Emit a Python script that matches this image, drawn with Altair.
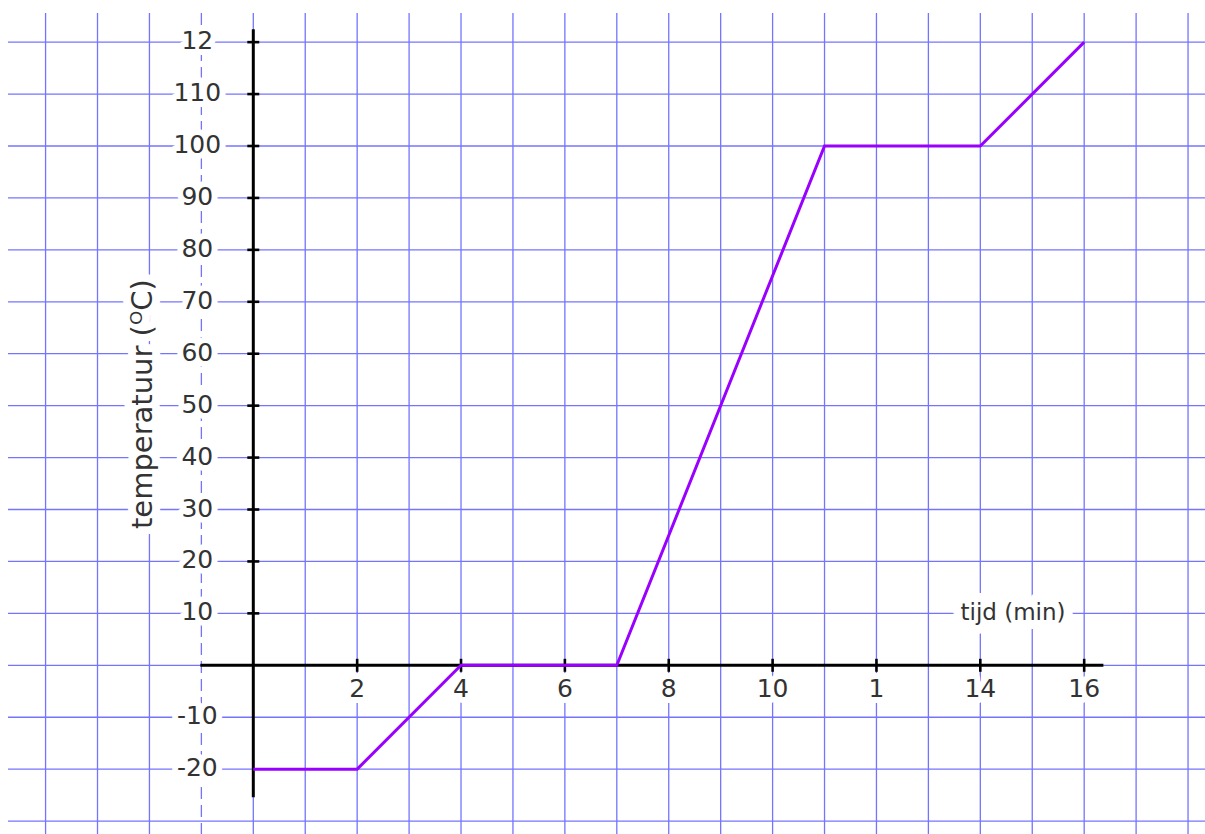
import altair as alt
import pandas as pd

# ---------------- data ----------------
time_min = [0, 2, 4, 7, 11, 14, 16]
temp_c = [-20, -20, 0, 0, 100, 100, 120]

x_tick_values = [2, 4, 6, 8, 10, 12, 14, 16]
x_tick_labels = ["2", "4", "6", "8", "10", "1", "14", "16"]

y_tick_values = [120, 110, 100, 90, 80, 70, 60, 50, 40, 30, 20, 10, -10, -20]
y_tick_labels = ["12", "110", "100", "90", "80", "70", "60", "50", "40", "30", "20", "10", "-10", "-20"]
y_tick_marks = [10, 20, 30, 40, 50, 60, 70, 80, 90, 100, 110, 120]

grid_minutes = list(range(-4, 19))
grid_degrees = list(range(-30, 121, 10))
dashed_minutes = [-1]

x_title = "tijd (min)"
y_title = "temperatuur (ᴼC)"

# ---------------- layout ----------------
W, H = 1205, 834
UNIT = 51.93          # px per minute and per 10 degC
X0, Y0 = 253.3, 665.3  # pixel position of the origin
FONT = "DejaVu Sans"
TEXT_COLOR = "#333333"
GRID_COLOR = "#7474ff"
LINE_COLOR = "#9900ff"

x_dom = [-X0 / UNIT, (W - X0) / UNIT]
y_dom = [-(H - Y0) / UNIT * 10, Y0 / UNIT * 10]
xs = alt.Scale(domain=x_dom, nice=False, zero=False)
ys = alt.Scale(domain=y_dom, nice=False, zero=False)

grid_top = (Y0 - 13) / UNIT * 10
grid_bottom = y_dom[0] - 10
grid_left = (8 - X0) / UNIT
grid_right = x_dom[1] + 1
axis_x_range = (-1.02, 16.37)
axis_y_range = (-25.4, 122.5)
tick_half_t = 6 / UNIT
tick_half_T = 6.5 / UNIT * 10
x_title_pos = (14.63, 10)
y_title_pos = (-2.12, 50.3)


def X(f):
    return alt.X(f, type="quantitative", scale=xs, axis=None)


def Y(f):
    return alt.Y(f, type="quantitative", scale=ys, axis=None)


# grid
vgrid = pd.DataFrame({"t": [m for m in grid_minutes if m not in dashed_minutes]})
vgrid["y1"] = grid_top
vgrid["y2"] = grid_bottom
hgrid = pd.DataFrame({"T": grid_degrees})
hgrid["x1"] = grid_left
hgrid["x2"] = grid_right
dgrid = pd.DataFrame({"t": dashed_minutes})
dgrid["y1"] = grid_top
dgrid["y2"] = grid_bottom

vgrid_layer = alt.Chart(vgrid).mark_rule(color=GRID_COLOR, strokeWidth=1.3).encode(
    x=X("t"), y=Y("y1"), y2="y2")
hgrid_layer = alt.Chart(hgrid).mark_rule(color=GRID_COLOR, strokeWidth=1.3).encode(
    y=Y("T"), x=X("x1"), x2="x2")
dgrid_layer = alt.Chart(dgrid).mark_rule(color=GRID_COLOR, strokeWidth=1.3,
                                         strokeDash=[12, 6]).encode(
    x=X("t"), y=Y("y1"), y2="y2")

# labels
ylab = pd.DataFrame({"T": y_tick_values, "label": y_tick_labels})
ylab["t"] = 0
xlab = pd.DataFrame({"t": x_tick_values, "label": x_tick_labels})
xlab["T"] = 0
titles = pd.DataFrame({
    "t": [x_title_pos[0]], "T": [x_title_pos[1]], "label": [x_title]})
ytitle = pd.DataFrame({
    "t": [y_title_pos[0]], "T": [y_title_pos[1]], "label": [y_title]})


def text_layers(df, size, halo, **kw):
    enc = dict(x=X("t"), y=Y("T"), text="label:N")
    h = alt.Chart(df).mark_text(font=FONT, fontSize=size, color="white",
                                stroke="white", strokeWidth=halo,
                                strokeJoin="round", **kw).encode(**enc)
    t = alt.Chart(df).mark_text(font=FONT, fontSize=size, color=TEXT_COLOR,
                                **kw).encode(**enc)
    return h, t


ylab_h, ylab_t = text_layers(ylab, 25, 12, align="center", baseline="middle",
                             dx=-56, dy=-1)
xlab_h, xlab_t = text_layers(xlab, 25, 12, align="center", baseline="middle",
                             dy=24)
xt_h, xt_t = text_layers(titles, 23, 18, align="center", baseline="middle")
yt_h, yt_t = text_layers(ytitle, 29, 16, align="center", baseline="middle",
                         angle=270)

# axes
xaxis = pd.DataFrame({"x1": [axis_x_range[0]], "x2": [axis_x_range[1]], "T": [0]})
yaxis = pd.DataFrame({"y1": [axis_y_range[0]], "y2": [axis_y_range[1]], "t": [0]})
xaxis_layer = alt.Chart(xaxis).mark_rule(color="black", strokeWidth=3).encode(
    x=X("x1"), x2="x2", y=Y("T"))
yaxis_layer = alt.Chart(yaxis).mark_rule(color="black", strokeWidth=3).encode(
    y=Y("y1"), y2="y2", x=X("t"))

xt = pd.DataFrame({"t": x_tick_values})
xt["y1"] = -tick_half_T
xt["y2"] = tick_half_T
yt = pd.DataFrame({"T": y_tick_marks})
yt["x1"] = -tick_half_t
yt["x2"] = tick_half_t
xtick_layer = alt.Chart(xt).mark_rule(color="black", strokeWidth=2.6).encode(
    x=X("t"), y=Y("y1"), y2="y2")
ytick_layer = alt.Chart(yt).mark_rule(color="black", strokeWidth=2.6).encode(
    y=Y("T"), x=X("x1"), x2="x2")

# data line
line_df = pd.DataFrame({"t": time_min, "T": temp_c})
line_layer = alt.Chart(line_df).mark_line(color=LINE_COLOR, strokeWidth=3).encode(
    x=X("t"), y=Y("T"), order="t:Q")

chart = alt.layer(
    hgrid_layer, vgrid_layer, dgrid_layer,
    ylab_h, xlab_h, xt_h, yt_h,
    xaxis_layer, yaxis_layer, xtick_layer, ytick_layer,
    line_layer,
    ylab_t, xlab_t, xt_t, yt_t,
).properties(
    width=W, height=H, padding=0, background="white",
    autosize=alt.AutoSizeParams(type="none"),
).configure_view(stroke=None)

chart.save("out.html", embed_options={"renderer": "svg", "actions": False})
